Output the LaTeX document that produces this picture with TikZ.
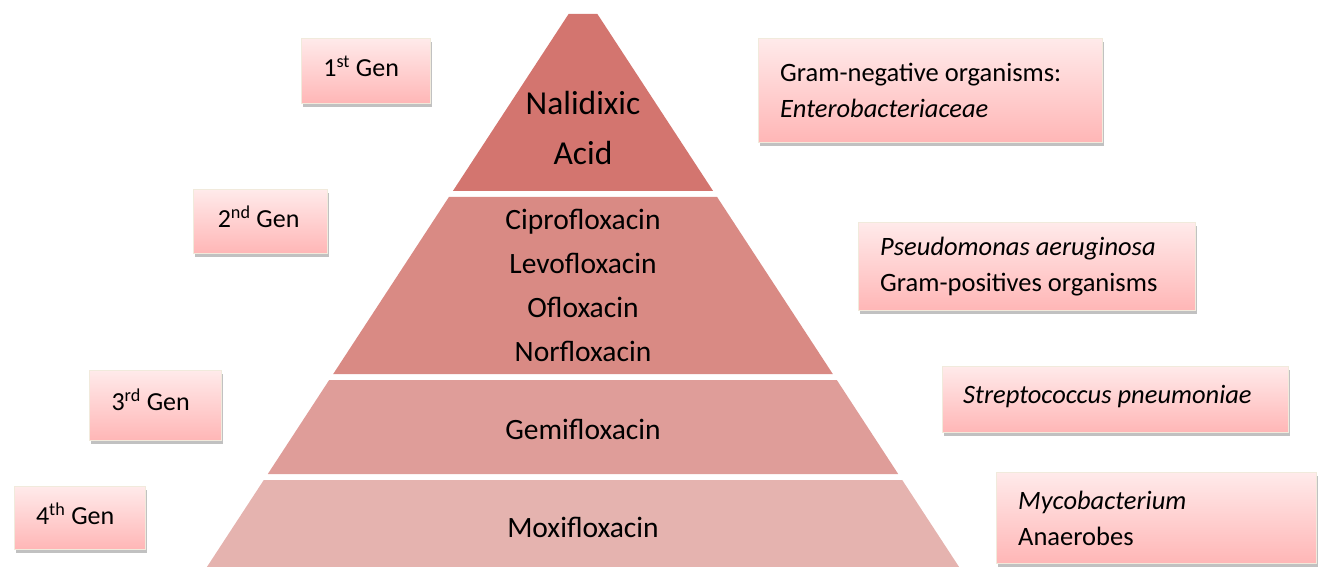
\documentclass[tikz,border=0pt]{standalone}
\usepackage{fontspec}
\setmainfont{Carlito}
\usetikzlibrary{shadows}
\definecolor{lay1}{HTML}{D3756F}
\definecolor{lay2}{HTML}{D98A84}
\definecolor{lay3}{HTML}{DF9D99}
\definecolor{lay4}{HTML}{E5B3AF}
\definecolor{boxtop}{HTML}{FFEAEA}
\definecolor{boxbot}{HTML}{FFB6B6}
\definecolor{boxborder}{HTML}{F1EADC}
\tikzset{
  infobox/.style={draw=boxborder, line width=1.3pt, top color=boxtop, bottom color=boxbot,
    drop shadow={shadow xshift=1pt, shadow yshift=-3pt, opacity=0.35, fill=black!70},
    anchor=north west, inner sep=0pt},
  layertext/.style={font=\fontsize{29.5}{44}\selectfont, align=center, text=black},
  boxtext/.style={font=\fontsize{26.5}{36}\selectfont, align=left, anchor=west, inner sep=0pt},
  gentext/.style={font=\fontsize{26}{30}\selectfont, inner sep=0pt}
}
\begin{document}
\begin{tikzpicture}[x=1pt,y=-1pt]
\useasboundingbox (0,0) rectangle (1318,567);
% pyramid layers
\fill[lay1] (568.6,14) -- (597.4,14) -- (713.1,191) -- (452.9,191) -- cycle;
\fill[lay2] (448.9,197) -- (717.1,197) -- (832.8,374) -- (333.2,374) -- cycle;
\fill[lay3] (329.2,380) -- (836.8,380) -- (898.2,474) -- (267.8,474) -- cycle;
\fill[lay4] (263.8,480) -- (902.2,480) -- (959.1,567) -- (206.9,567) -- cycle;
% layer texts
\node[layertext, font=\fontsize{33.5}{50}\selectfont] (l1) at (583,128) {Nalidixic\\Acid};
\node[layertext] (l2) at (583,285.5) {Ciprofloxacin\\Levofloxacin\\Ofloxacin\\Norfloxacin};
\node[layertext] (l3) at (583,429) {Gemifloxacin};
\node[layertext] (l4) at (583,527) {Moxifloxacin};
% left generation boxes
\node[infobox, minimum width=129pt, minimum height=65pt] (g1) at (301,38) {};
\node[gentext] (g1t) at ([xshift=-5pt,yshift=5pt]g1.center) {1\textsuperscript{st} Gen};
\node[infobox, minimum width=134pt, minimum height=64pt] (g2) at (193,189) {};
\node[gentext] (g2t) at ([xshift=-2pt,yshift=5pt]g2.center) {2\textsuperscript{nd} Gen};
\node[infobox, minimum width=132pt, minimum height=70pt] (g3) at (89,370) {};
\node[gentext] (g3t) at ([xshift=-5pt,yshift=6pt]g3.center) {3\textsuperscript{rd} Gen};
\node[infobox, minimum width=131pt, minimum height=63pt] (g4) at (14,486) {};
\node[gentext] (g4t) at ([xshift=-5pt,yshift=4pt]g4.center) {4\textsuperscript{th} Gen};
% right organism boxes
\node[infobox, minimum width=344pt, minimum height=104pt] (o1) at (758,38) {};
\node[boxtext] (o1t) at ([xshift=22pt]o1.west) {Gram-negative organisms:\\\textit{Enterobacteriaceae}};
\node[infobox, minimum width=337pt, minimum height=88pt] (o2) at (858,222) {};
\node[boxtext] (o2t) at ([xshift=22pt]o2.west) {\textit{Pseudomonas aeruginosa}\\Gram-positives organisms};
\node[infobox, minimum width=346pt, minimum height=66pt] (o3) at (942,366) {};
\node[boxtext] (o3t) at ([xshift=21pt,yshift=3pt]o3.west) {\textit{Streptococcus pneumoniae}};
\node[infobox, minimum width=320pt, minimum height=91pt] (o4) at (996,472) {};
\node[boxtext] (o4t) at ([xshift=22pt]o4.west) {\textit{Mycobacterium}\\Anaerobes};
\end{tikzpicture}
\end{document}
